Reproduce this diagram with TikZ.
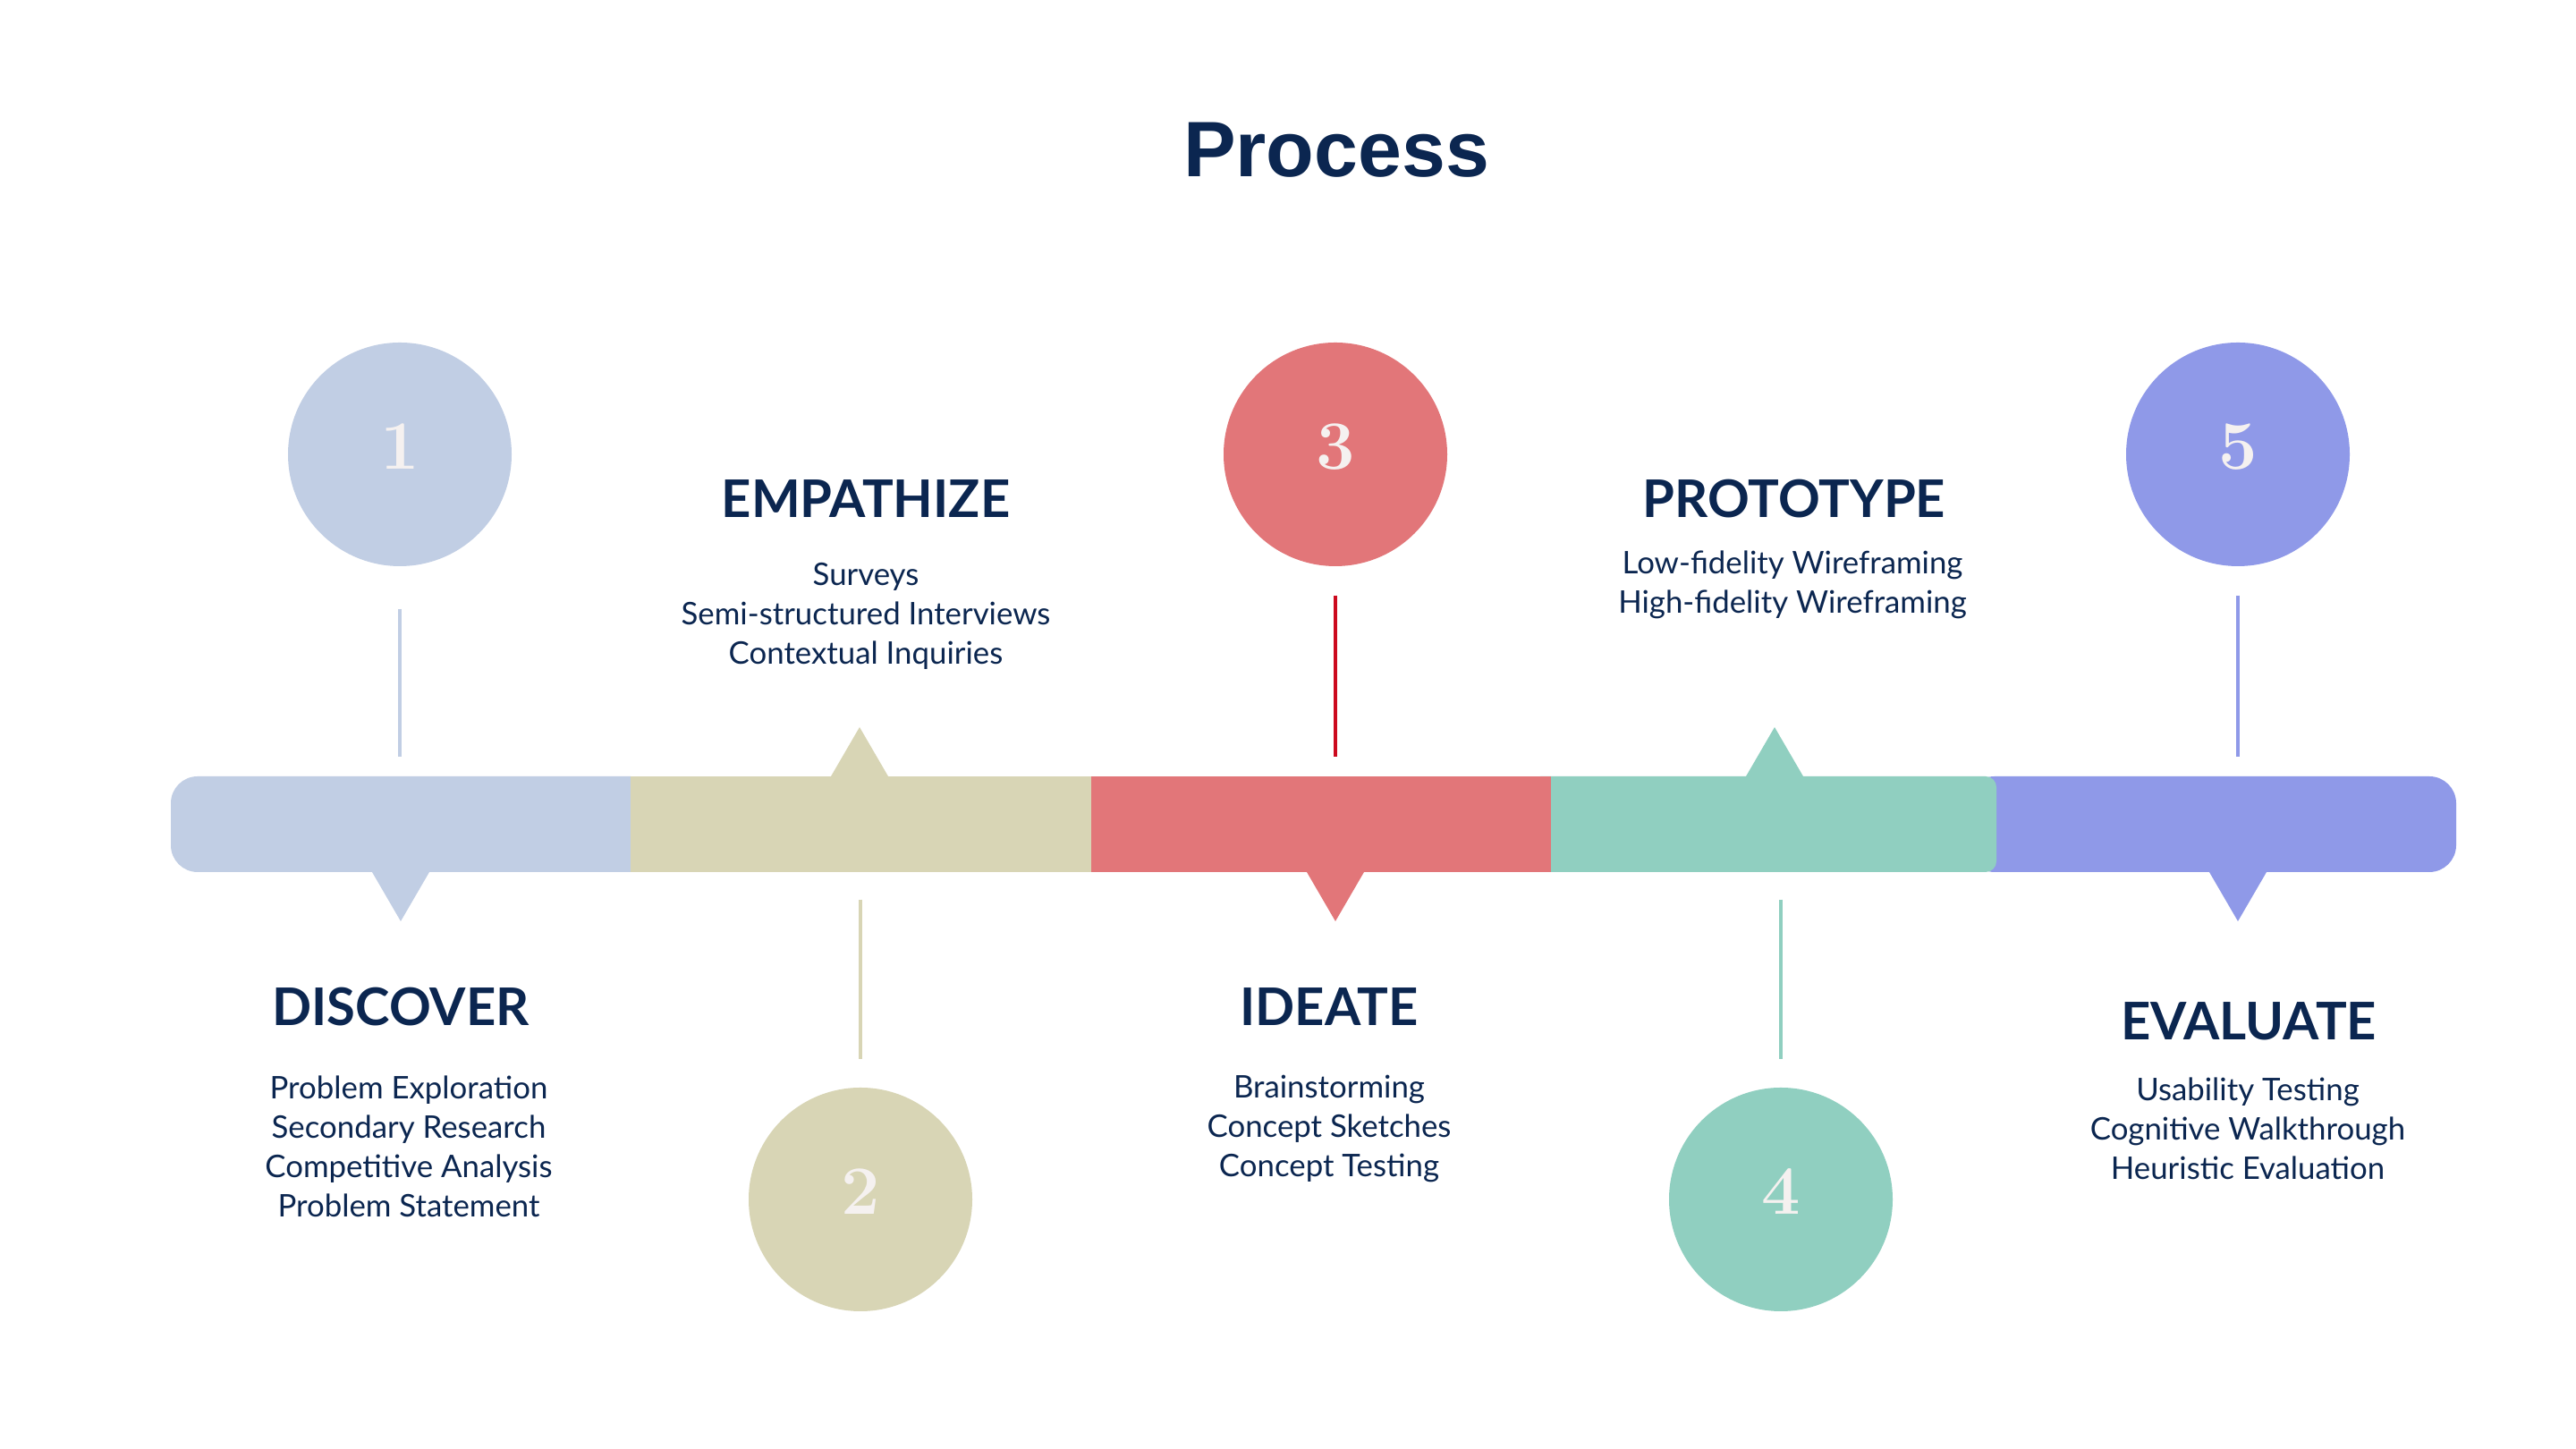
\documentclass[tikz,border=0pt]{standalone}
\usepackage{fontspec}
\usepackage{tikz}
\usetikzlibrary{positioning, calc}
\newfontfamily\labelfont{Lato}
\newfontfamily\titlefont{Liberation Sans}
\definecolor{navy}{HTML}{0B2650}
\definecolor{digitwhite}{HTML}{F5F1F0}
\definecolor{stepblue}{HTML}{C1CEE4}
\definecolor{stepbeige}{HTML}{D8D5B5}
\definecolor{stepred}{HTML}{E27679}
\definecolor{stepgreen}{HTML}{90CFC0}
\definecolor{steppurple}{HTML}{8F99E8}
\definecolor{stemred}{HTML}{CC0A1E}
\tikzset{
    numcircle/.style={circle, minimum size=2.5cm, inner sep=0pt, text=digitwhite, font=\rmfamily\bfseries\fontsize{22}{22}\selectfont, text depth=0.18cm},
    segment/.style={minimum height=1.07cm, inner sep=0pt},
    heading/.style={text=navy, font=\labelfont\bfseries\fontsize{16.5}{18}\selectfont, inner sep=0pt},
    items/.style={text=navy, font=\labelfont\fontsize{9.9}{12.5}\selectfont, align=center, inner sep=0pt},
    stem/.style={line width=1.2pt}
}

\begin{document}
\begin{tikzpicture}
    \fill[white] (0,0) rectangle (28.8,16.2);

    \node[text=navy, font=\titlefont\bfseries\fontsize{25}{25}\selectfont, inner sep=0pt] (title) at (14.94,14.52) {Process};

    % bar, drawn so the rounded ends tuck under their neighbours
    \node[segment, fill=stepblue, rounded corners=0.3cm, minimum width=5.44cm] (s1) at (4.63,6.985) {};
    \node[segment, fill=stepbeige, minimum width=5.15cm] (s2) at (9.625,6.985) {};
    \node[segment, fill=steppurple, rounded corners=0.3cm, minimum width=5.46cm] (s5) at (24.73,6.985) {};
    \node[segment, fill=stepgreen, rounded corners=0.12cm, minimum width=5.22cm] (s4) at (19.71,6.985) {};
    \node[segment, fill=stepred, minimum width=5.14cm] (s3) at (14.77,6.985) {};

    % numbered circles
    \node[numcircle, fill=stepblue] (c1) at (4.47,11.12) {1};
    \node[numcircle, fill=stepbeige] (c2) at (9.62,2.79) {2};
    \node[numcircle, fill=stepred] (c3) at (14.93,11.12) {3};
    \node[numcircle, fill=stepgreen] (c4) at (19.91,2.79) {4};
    \node[numcircle, fill=steppurple] (c5) at (25.02,11.12) {5};

    % pointers on the bar
    \coordinate (t1) at (4.48,6.45);
    \coordinate (t2) at (9.61,7.52);
    \coordinate (t3) at (14.93,6.45);
    \coordinate (t4) at (19.84,7.52);
    \coordinate (t5) at (25.02,6.45);
    \fill[stepblue] ([xshift=-0.32cm]t1) -- ([xshift=0.32cm]t1) -- ([yshift=-0.55cm]t1) -- cycle;
    \fill[stepbeige] ([xshift=-0.32cm]t2) -- ([xshift=0.32cm]t2) -- ([yshift=0.55cm]t2) -- cycle;
    \fill[stepred] ([xshift=-0.32cm]t3) -- ([xshift=0.32cm]t3) -- ([yshift=-0.55cm]t3) -- cycle;
    \fill[stepgreen] ([xshift=-0.32cm]t4) -- ([xshift=0.32cm]t4) -- ([yshift=0.55cm]t4) -- cycle;
    \fill[steppurple] ([xshift=-0.32cm]t5) -- ([xshift=0.32cm]t5) -- ([yshift=-0.55cm]t5) -- cycle;

    % stems
    \draw[stem, draw=stepblue, shorten <=0.47cm, shorten >=0.21cm] (c1.south) -- (c1 |- s1.north);
    \draw[stem, draw=stepbeige, shorten <=0.30cm, shorten >=0.31cm] (c2 |- s2.south) -- (c2.north);
    \draw[stem, draw=stemred, shorten <=0.32cm, shorten >=0.21cm] (c3.south) -- (c3 |- s3.north);
    \draw[stem, draw=stepgreen, shorten <=0.30cm, shorten >=0.31cm] (c4 |- s4.south) -- (c4.north);
    \draw[stem, draw=steppurple, shorten <=0.32cm, shorten >=0.21cm] (c5.south) -- (c5 |- s5.north);

    % labels
    \node[heading] (discover) at (4.48,4.94) {DISCOVER};
    \node[items] (discoverlist) at (4.57,3.38) {Problem Exploration\\Secondary Research\\Competitive Analysis\\Problem Statement};

    \node[heading] (empathize) at (9.68,10.62) {EMPATHIZE};
    \node[items] (empathizelist) at (9.68,9.31) {Surveys\\Semi-structured Interviews\\Contextual Inquiries};

    \node[heading] (ideate) at (14.86,4.94) {IDEATE};
    \node[items] (ideatelist) at (14.86,3.58) {Brainstorming\\Concept Sketches\\Concept Testing};

    \node[heading] (prototype) at (20.06,10.62) {PROTOTYPE};
    \node[items] (prototypelist) at (20.04,9.66) {Low-fidelity Wireframing\\High-fidelity Wireframing};

    \node[heading] (evaluate) at (25.14,4.78) {EVALUATE};
    \node[items] (evaluatelist) at (25.13,3.58) {Usability Testing\\Cognitive Walkthrough\\Heuristic Evaluation};
\end{tikzpicture}
\end{document}
